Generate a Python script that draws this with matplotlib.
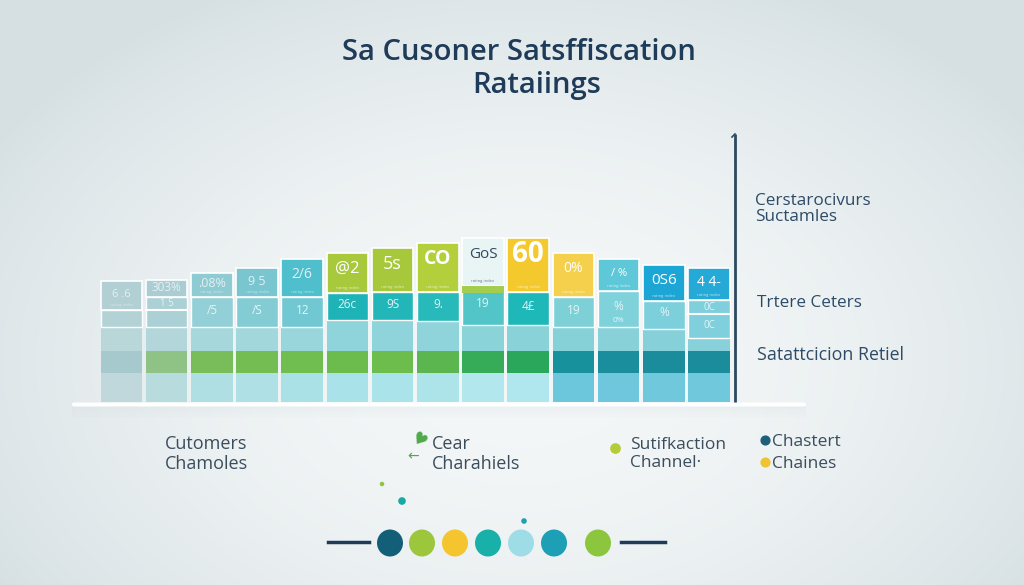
import numpy as np
import matplotlib.pyplot as plt
from matplotlib.patches import FancyBboxPatch, Ellipse
from matplotlib.colors import to_rgb

plt.rcParams['font.family'] = ['Open Sans', 'DejaVu Sans']

# ------------------------------------------------------------
# data (y = height above the baseline)
# ------------------------------------------------------------
columns = np.arange(14)
scores = [121, 122, 129, 134, 143, 149, 154, 159, 164, 164, 149, 143, 137, 134]
box_bottom = [92, 105, 105, 105, 105, 109, 110, 110, 116, 110, 105, 111, 101, 102]
mid_floor = [75, 75, 75, 75, 75, 82, 82, 81, 77, 77, 75, 75, 73, 64]
mid_split = [None, 92, None, None, None, None, None, None, None, None, None, None, None, 88]
band_b_top = 51
band_c_top = 29

top_labels = ["6 .6", "303%", ".08%", "9 5", "2/6", "@2", "5s", "CO",
              "GoS", "60", "0%", "/ %", "0S6", "4 4-"]
top_label_size = [8, 8.5, 9, 9, 10, 12, 13, 14, 11, 20, 10, 8, 11, 10]
mid_labels = ["", "1 5", "/5", "/S", "12", "26c", "9S", "9.", "19", "4£", "19", "%", "%", "0C"]

top_colors = ["#b2cfd4", "#a9cdd3", "#8fcbd3", "#79c6d0", "#4fbfcd", "#a8c93c", "#a6c83a",
              "#b3cf3b", "#e9f4f4", "#f4c92e", "#f5d04c", "#5fc8d8", "#1ba6d5", "#25a9d7"]
mid_colors = ["#b3d2d6", "#abd0d5", "#92cfd6", "#84ccd4", "#72c8d2", "#1eb3b6", "#22b6b8",
              "#28b9ba", "#52c5c9", "#1fb8b9", "#7dd0d6", "#80d2da", "#7ccfdb", "#7fd0dc"]
band_a_colors = ["#b9d6d9", "#b2d6d9", "#a6d8db", "#a2d8dc", "#98d6dc", "#8fd4da", "#8fd4da",
                 "#8fd4da", "#8ad3d9", "#88d2d8", "#86d1d8", "#88d1d9", "#86d0d9", "#88d0da"]
band_b_colors = ["#a6c9cd", "#8fc285", "#79bd5a", "#74bd52", "#70bd50", "#6bbc4c", "#6cbd4c",
                 "#5bb650", "#36ab58", "#2aa75a", "#17919b", "#1a8e9c", "#1a8c9b", "#1a8c9b"]
band_c_colors = ["#c0d8db", "#b8dbde", "#b0dfe3", "#aee0e5", "#aae1e7", "#a9e2e8", "#aae3e9",
                 "#ace4ea", "#b2e7ee", "#b0e6ed", "#6dc7dc", "#6ec7dd", "#70c8dd", "#70c8dd"]

title_lines = ["Sa Cusoner Satsffiscation", "Rataiings"]
side_labels = ["Cerstarocivurs\nSuctamles", "Trtere Ceters", "Satattcicion Retiel"]
legend_labels = ["Cutomers\nChamoles", "Cear\nCharahiels", "Sutifkaction\nChannel·", "Chastert", "Chaines"]
palette_colors = ["#145f78", "#9cc63b", "#f5c530", "#18b0a8", "#9fdde6", "#1d9fb5", "#8cc63f"]

# ------------------------------------------------------------
W, H = 1024, 585
fig = plt.figure(figsize=(W / 100, H / 100), dpi=100)

# background gradient
bg = fig.add_axes([0, 0, 1, 1])
yy, xx = np.mgrid[0:H, 0:W]
r = ((xx - 520) / 620.0) ** 2 + ((yy - 360) / 420.0) ** 2
t = np.clip(r, 0, 1)[..., None]
c_in = np.array(to_rgb("#f4f7f8"))
c_out = np.array(to_rgb("#d6e0e3"))
bg.imshow(c_in * (1 - t) + c_out * t, extent=[0, W, H, 0], aspect='auto')
bg.set_xlim(0, W)
bg.set_ylim(H, 0)
bg.axis('off')

# ------------------------------------------------------------
# bar columns
# ------------------------------------------------------------
x0, x1 = 98.9, 731.6
y_base, y_top = 402, 230
ax = fig.add_axes([x0 / W, (H - y_base) / H, (x1 - x0) / W, (y_base - y_top) / H])
ax.set_xlim(-0.5, 13.5)
ax.set_ylim(0, y_base - y_top)
ax.patch.set_alpha(0)
ax.axis('off')

bw = 0.92
sc = np.array(scores)
bb = np.array(box_bottom)
mf = np.array(mid_floor)

ax.bar(columns, band_c_top, bottom=0, width=bw, color=band_c_colors, linewidth=0)
ax.bar(columns, band_b_top - band_c_top, bottom=band_c_top, width=bw, color=band_b_colors, linewidth=0)
ax.bar(columns, mf - band_b_top, bottom=band_b_top, width=bw, color=band_a_colors, linewidth=0)
ax.bar(columns, bb - mf, bottom=mf, width=bw, color=mid_colors, edgecolor='white', linewidth=1.0)
ax.bar(columns, sc - bb, bottom=bb, width=bw, color=top_colors, edgecolor='white', linewidth=1.2)

# split lines inside the middle boxes
for i, s in enumerate(mid_split):
    if s is not None:
        ax.plot([i - bw / 2, i + bw / 2], [s, s], color='white', lw=1.5)
# light green strip under the GoS box
ax.bar([8], [box_bottom[8] - 109], bottom=109, width=bw, color="#a3cd4c", linewidth=0)

for i in columns:
    faded = i < 5
    col = "#2e4a5e" if i == 8 else ("#e4f0f2" if faded else "white")
    box_h = scores[i] - box_bottom[i]
    ytxt = scores[i] - min(16, box_h * 0.45)
    ax.text(i, ytxt, top_labels[i], ha='center', va='center', color=col,
            fontsize=top_label_size[i], fontweight='bold' if i in (7, 9) else 'normal')
    # tiny caption line under the value, where the box has room
    if box_h >= 24:
        ax.text(i, box_bottom[i] + 5, "rating index", ha='center', va='center',
                color=col, fontsize=3, alpha=0.7)
    if mid_labels[i]:
        ym = (box_bottom[i] + mf[i]) / 2 + 2
        if mid_split[i] is not None:
            ym = (box_bottom[i] + mid_split[i]) / 2
        ax.text(i, ym, mid_labels[i], ha='center', va='center',
                color="#e6f4f5", fontsize=8.5 if mid_split[i] is None else 7)
ax.text(11, 82, "0%", ha='center', va='center', color="#e6f4f5", fontsize=6)
ax.text(13, 76, "0C", ha='center', va='center', color="#e6f4f5", fontsize=7)

# ------------------------------------------------------------
# overlay: title, axis lines, labels, legend
# ------------------------------------------------------------
ov = fig.add_axes([0, 0, 1, 1])
ov.set_xlim(0, W)
ov.set_ylim(H, 0)
ov.patch.set_alpha(0)
ov.axis('off')

navy = "#1e3b59"
ov.text(519, 52, title_lines[0], ha='center', va='center', fontsize=21, color=navy, fontweight='semibold')
ov.text(537, 85, title_lines[1], ha='center', va='center', fontsize=21, color=navy, fontweight='semibold')

# baseline with a soft shadow
for k in range(8):
    ov.add_patch(FancyBboxPatch((72, 406 + k * 1.5), 734, 1.5, boxstyle="square,pad=0",
                                facecolor="#b9c7cb", edgecolor='none', alpha=0.12 * (1 - k / 8)))
ov.add_patch(FancyBboxPatch((72, 402.5), 734, 4, boxstyle="round,pad=0,rounding_size=2",
                            facecolor="white", edgecolor='none'))

# vertical axis line on the right, with a small flag at the top
ov.plot([735, 735], [134, 402], color="#2a4a60", lw=2, solid_capstyle='butt')
ov.plot([732, 735], [137, 134], color="#2a4a60", lw=1.2)

side_col = "#2d4b66"
ov.text(755, 209, side_labels[0], ha='left', va='center', fontsize=12.3, color=side_col, linespacing=1.05)
ov.text(757, 303, side_labels[1], ha='left', va='center', fontsize=12.3, color=side_col)
ov.text(757, 355, side_labels[2], ha='left', va='center', fontsize=12.8, color=side_col)

leg_col = "#3b4d5c"
ov.text(165, 454, legend_labels[0], ha='left', va='center', fontsize=13, color=leg_col, linespacing=1.15)
ov.text(432, 454, legend_labels[1], ha='left', va='center', fontsize=13, color=leg_col, linespacing=1.15)
ov.text(630, 454, legend_labels[2], ha='left', va='center', fontsize=12.5, color=leg_col, linespacing=1.2)
ov.text(772, 442, legend_labels[3], ha='left', va='center', fontsize=12.5, color=leg_col)
ov.text(772, 464, legend_labels[4], ha='left', va='center', fontsize=12.5, color=leg_col)

ov.text(418, 440, "\u2665", ha='center', va='center', fontsize=12, color="#4fa94a", family='DejaVu Sans', rotation=-35)
ov.text(413, 456, "\u2190", ha='center', va='center', fontsize=10, color="#4fa94a", family='DejaVu Sans')
ov.scatter([615], [448], s=45, color="#b5cc3a", zorder=3)
ov.scatter([765], [440], s=40, color="#1d5f7a", zorder=3)
ov.scatter([765], [462], s=40, color="#f0c430", zorder=3)

# scattered little dots
ov.scatter([382, 402, 524], [484, 501, 521], s=[5, 20, 9], color=["#8cc63f", "#18a9a3", "#1d9fb5"])

# palette row
pal_x = [390, 422, 455, 488, 521, 554, 598]
for xc, c in zip(pal_x, palette_colors):
    ov.add_patch(Ellipse((xc, 543), 26, 27, facecolor=c, edgecolor='none'))
ov.plot([328, 369], [542, 542], color="#1e3b59", lw=2.5)
ov.plot([621, 665], [542, 542], color="#1e3b59", lw=2.5)

fig.savefig("out.png", dpi=100)
